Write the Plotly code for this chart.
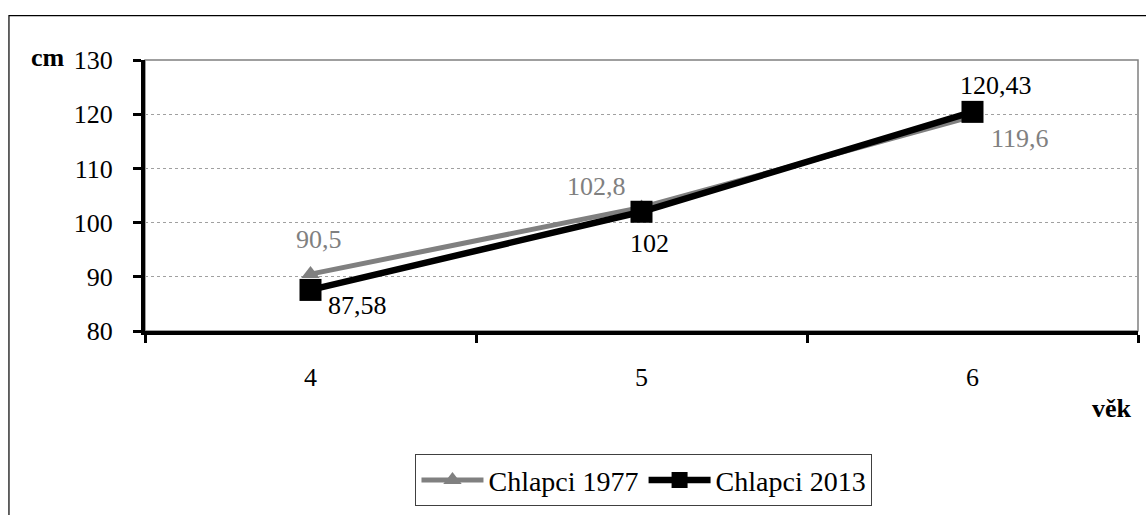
import plotly.graph_objects as go

ages = ["4", "5", "6"]
boys_1977 = [90.5, 102.8, 119.6]
boys_2013 = [87.58, 102, 120.43]
y_ticks = [80, 90, 100, 110, 120, 130]

# label offsets (pixels) for data labels
off_1977 = [(8, -35), (-45, -21), (47, 22)]
off_2013 = [(47, 16), (8, 32), (23, -26)]

def fmt(v):
    return ("%g" % v).replace(".", ",")

FONT = "Liberation Serif"
GRAY = "#808080"
FS = 26

fig = go.Figure()
fig.add_trace(go.Scatter(
    x=ages, y=boys_1977, name="Chlapci 1977", mode="lines+markers",
    line=dict(color=GRAY, width=5),
    marker=dict(symbol="triangle-up", size=16, color=GRAY),
))
fig.add_trace(go.Scatter(
    x=ages, y=boys_2013, name="Chlapci 2013", mode="lines+markers",
    line=dict(color="black", width=6.5),
    marker=dict(symbol="square", size=22, color="black"),
))

for ys, offs, col in [(boys_1977, off_1977, GRAY), (boys_2013, off_2013, "black")]:
    for i, (yv, (dx, dy)) in enumerate(zip(ys, offs)):
        fig.add_annotation(x=i, y=yv, text=fmt(yv), showarrow=False,
                           xshift=dx, yshift=-dy,
                           font=dict(family=FONT, size=FS, color=col))

# plot area border (gray)
fig.add_shape(type="rect", xref="paper", yref="paper", x0=0, y0=0, x1=1, y1=1,
              line=dict(color=GRAY, width=1.5), layer="below")
# outer chart frame (left and top edges)
fig.add_shape(type="path", xref="paper", yref="paper",
              path="M -0.137,-0.7 L -0.137,1.1637 L 1.02,1.1637",
              line=dict(color="black", width=1.2))

fig.add_annotation(xref="paper", yref="paper", x=-0.0977, y=1.0107, text="<b>cm</b>",
                   showarrow=False, font=dict(family=FONT, size=FS, color="black"),
                   xanchor="center", yanchor="middle")
fig.add_annotation(xref="paper", yref="paper", x=0.974, y=-0.285, text="<b>věk</b>",
                   showarrow=False, font=dict(family=FONT, size=FS, color="black"),
                   xanchor="center", yanchor="middle")

fig.update_layout(
    width=1146, height=515,
    margin=dict(l=145, r=8, t=60, b=174),
    paper_bgcolor="white", plot_bgcolor="white",
    font=dict(family=FONT, size=FS, color="black"),
    showlegend=True,
    legend=dict(orientation="h", x=0.5025, xanchor="center", y=-0.455, yanchor="top",
                bordercolor="#404040", borderwidth=1, font=dict(family=FONT, size=28),
                itemwidth=62, tracegroupgap=0),
    xaxis=dict(type="category", range=[-0.5, 2.5], showgrid=False,
               showline=True, linecolor="black", linewidth=4,
               ticks="outside", tickson="boundaries", ticklen=8, tickwidth=3,
               tickcolor="black", tickfont=dict(family=FONT, size=FS),
               ticklabelstandoff=20, zeroline=False),
    yaxis=dict(range=[80, 130], tickvals=y_ticks, showgrid=True,
               gridcolor="#a0a0a0", griddash="dot", gridwidth=1,
               showline=True, linecolor="black", linewidth=4,
               ticks="outside", ticklen=8, tickwidth=3, tickcolor="black",
               tickfont=dict(family=FONT, size=FS), ticklabelstandoff=15,
               zeroline=False),
)

fig.write_html("out.html", post_script="document.body.style.margin='0';",
               config={"displayModeBar": False})
